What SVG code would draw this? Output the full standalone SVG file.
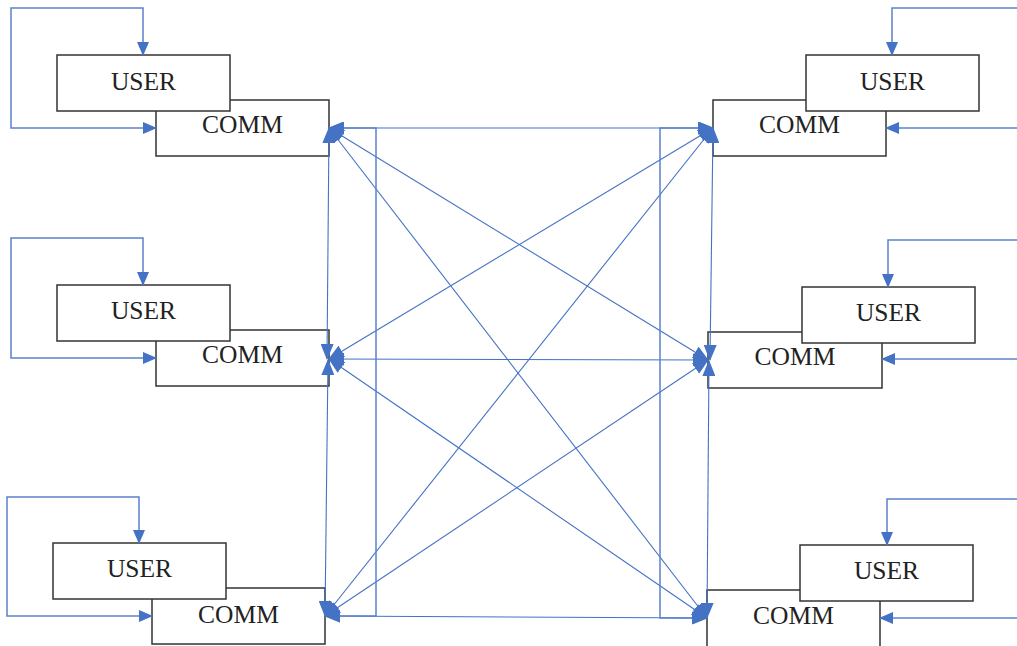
<svg xmlns="http://www.w3.org/2000/svg" width="1017" height="646" viewBox="0 0 1017 646">
<style>
.box{fill:#fff;stroke:#333;stroke-width:1.5}
.t{font-family:"Liberation Serif","Times New Roman",serif;font-size:25.5px;fill:#222;text-anchor:middle}
.c{fill:none;stroke:#4472C4;stroke-width:1.1}
.lp{fill:none;stroke:#5B82CC;stroke-width:1.5}
</style>
<defs>
<marker id="ah" viewBox="0 0 16 13" refX="15" refY="6.5" markerWidth="16" markerHeight="13" markerUnits="userSpaceOnUse" orient="auto-start-reverse">
<path d="M0,0 L16,6.5 L0,13 z" fill="#4472C4"/>
</marker>
<marker id="as" viewBox="0 0 14 12" refX="13" refY="6" markerWidth="14" markerHeight="12" markerUnits="userSpaceOnUse" orient="auto-start-reverse">
<path d="M0,0 L14,6 L0,12 z" fill="#4472C4"/>
</marker>
</defs>
<rect width="1017" height="646" fill="#fff"/>
<g id="n1">
<rect class="box" x="156" y="100" width="173" height="56"/>
<text class="t" x="242.5" y="133">COMM</text>
<rect class="box" x="57" y="55" width="173" height="56"/>
<text class="t" x="143.5" y="90">USER</text>
</g>
<g id="n2">
<rect class="box" x="156" y="330" width="173" height="56"/>
<text class="t" x="242.5" y="363">COMM</text>
<rect class="box" x="57" y="285" width="173" height="56"/>
<text class="t" x="143.5" y="319">USER</text>
</g>
<g id="n3">
<rect class="box" x="152" y="588" width="173" height="56"/>
<text class="t" x="238.5" y="623">COMM</text>
<rect class="box" x="53" y="543" width="173" height="56"/>
<text class="t" x="139.5" y="577">USER</text>
</g>
<g id="n4">
<rect class="box" x="713" y="100" width="173" height="56"/>
<text class="t" x="799.5" y="133">COMM</text>
<rect class="box" x="806" y="55" width="173" height="56"/>
<text class="t" x="892.5" y="90">USER</text>
</g>
<g id="n5">
<rect class="box" x="708" y="332" width="174" height="56"/>
<text class="t" x="795" y="365">COMM</text>
<rect class="box" x="802" y="287" width="173" height="56"/>
<text class="t" x="888.5" y="321">USER</text>
</g>
<g id="n6">
<rect class="box" x="707" y="590" width="173" height="60"/>
<text class="t" x="793.5" y="624">COMM</text>
<rect class="box" x="800" y="545" width="173" height="56"/>
<text class="t" x="886.5" y="579">USER</text>
</g>
<g id="connectors">
<g class="c" marker-start="url(#ah)" marker-end="url(#ah)">
<line x1="329" y1="128" x2="713" y2="128"/>
<line x1="329" y1="128" x2="708" y2="360"/>
<line x1="329" y1="128" x2="707" y2="618"/>
<line x1="329" y1="359" x2="713" y2="128"/>
<line x1="329" y1="359" x2="708" y2="360"/>
<line x1="329" y1="359" x2="707" y2="618"/>
<line x1="325" y1="616" x2="713" y2="128"/>
<line x1="325" y1="616" x2="708" y2="360"/>
<line x1="325" y1="616" x2="707" y2="618"/>
<line x1="329" y1="128" x2="327" y2="359"/>
<line x1="325" y1="616" x2="328" y2="360"/>
<line x1="713" y1="128" x2="710" y2="360"/>
<line x1="707" y1="618" x2="709" y2="361"/>
</g>
<g class="lp" marker-start="url(#ah)" marker-end="url(#ah)">
<polyline points="329,128 376,128 376,616 325,616"/>
<polyline points="713,128 660,128 660,618 707,618"/>
</g>
<g class="lp" marker-start="url(#as)" marker-end="url(#as)">
<polyline points="156,128 11,128 11,8 143,8 143,55"/>
<polyline points="156,358 11,358 11,238 143,238 143,285"/>
<polyline points="152,616 7,616 7,497 139,497 139,543"/>
</g>
<g class="lp" marker-end="url(#as)">
<polyline points="1017,8 892,8 892,55"/>
<line x1="1017" y1="128" x2="886" y2="128"/>
<polyline points="1017,240 888,240 888,287"/>
<line x1="1017" y1="359" x2="882" y2="359"/>
<polyline points="1017,499 887,499 887,545"/>
<line x1="1017" y1="618" x2="880" y2="618"/>
</g>
</g>
</svg>
